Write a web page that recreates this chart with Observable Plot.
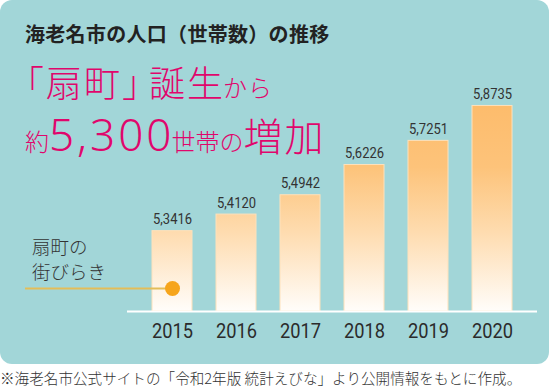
<!DOCTYPE html>
<html><head><meta charset="utf-8">
<script src="https://cdn.jsdelivr.net/npm/d3@7"></script>
<script src="https://cdn.jsdelivr.net/npm/@observablehq/plot@0.6"></script>
<style>
html,body{margin:0;padding:0;background:#fff;}
#card{position:relative;width:553px;height:392px;overflow:hidden;font-family:"Noto Sans CJK JP","Noto Sans",sans-serif;}
#panel{position:absolute;left:0;top:0;width:549px;height:364px;background:#a2d6d8;border-radius:12px;}
#title{position:absolute;left:25px;top:24px;font-size:20px;font-weight:700;color:#222;line-height:1;white-space:nowrap;letter-spacing:0.3px;}
.hl{position:absolute;color:#e0066c;white-space:nowrap;line-height:1;display:flex;align-items:baseline;font-weight:300;}
#hl1{top:63px;left:8px;}
#hl2{top:112px;left:25px;}
#note{position:absolute;left:32px;top:234px;font-size:18.5px;line-height:25px;color:#333;font-weight:300;}
#foot{position:absolute;left:0;top:370px;font-size:14.6px;color:#333;white-space:nowrap;line-height:1.1;font-weight:300;}
#chart{position:absolute;left:0;top:0;}
</style>
</head><body>
<div id="card">
  <div id="panel"></div>
  <div id="title">海老名市の人口（世帯数）の推移</div>
  <div class="hl" id="hl1"><span style="font-size:36px;letter-spacing:2px">「扇町<span style="letter-spacing:-9px">」</span>誕<span style="letter-spacing:0">生</span></span><span style="font-size:24px;letter-spacing:1px">から</span></div>
  <div class="hl" id="hl2"><span style="font-size:24px">約</span><span style="font-size:44px;font-family:'Noto Sans',sans-serif;letter-spacing:3px;font-weight:300">5,30<span style="letter-spacing:0">0</span></span><span style="font-size:24px;margin-left:0">世帯の</span><span style="font-size:39px;letter-spacing:2px">増加</span></div>
  <div id="note">扇町の<br>街びらき</div>
  <div id="chart"></div>
  <div id="foot">※海老名市公式サイトの「令和2年版 統計えびな」より公開情報をもとに作成。</div>
</div>
<script>
const years = ["2015", "2016", "2017", "2018", "2019", "2020"];
const households = [53416, 54120, 54942, 56226, 57251, 58735];
const valueLabels = ["5,3416", "5,4120", "5,4942", "5,6226", "5,7251", "5,8735"];
const baseValue = 50000;
const markerYear = "2015";
const markerValue = 50980;

const data = years.map((y, i) => ({year: y, value: households[i], label: valueLabels[i]}));

const W = 553, H = 350, mL = 128, mR = 17;
const xOpts = {domain: years, padding: 0.375};
// Same band scale the plot will use, to find where the marker line should end.
const xs = Plot.scale({x: {type: "band", ...xOpts, range: [mL, W - mR]}});
const markerCenter = xs.apply(markerYear) + xs.bandwidth / 2;

const plot = Plot.plot({
  width: W,
  height: H,
  marginLeft: mL,
  marginRight: mR,
  marginTop: 75.7,
  marginBottom: 39,
  x: {...xOpts, axis: null},
  y: {domain: [50000, 60000], axis: null},
  style: {background: "transparent", overflow: "visible"},
  marks: [
    Plot.barY(data, {x: "year", y1: d => baseValue, y2: "value", fill: "url(#barGrad)", stroke: "#fde1bb", strokeWidth: 1}),
    Plot.ruleY([baseValue], {stroke: "#ffffff", strokeWidth: 2, insetLeft: -1, insetRight: -1}),
    Plot.text(data, {x: "year", y: "value", text: "label", dy: -7, lineAnchor: "bottom", fontSize: 15, fill: "#333", fontFamily: "Roboto"}),
    Plot.text(data, {x: "year", y: d => baseValue, text: "year", dy: 20, lineAnchor: "middle", fontSize: 20, fill: "#2b2b2b", fontFamily: "Roboto"}),
    Plot.ruleY([markerValue], {stroke: "#e4bd58", strokeWidth: 2, insetLeft: -103, insetRight: (W - mR) - markerCenter}),
    Plot.dot([markerValue], {x: () => markerYear, y: d => d, r: 7.5, fill: "#f6a51c", stroke: "none"})
  ]
});

const yScale = plot.scale("y");
const gradTop = yScale.apply(d3.max(households));
const gradBottom = yScale.apply(baseValue);
const svg = d3.select(plot);
const grad = svg.insert("defs", ":first-child").append("linearGradient")
  .attr("id", "barGrad").attr("gradientUnits", "userSpaceOnUse")
  .attr("x1", 0).attr("x2", 0).attr("y1", gradTop).attr("y2", gradBottom);
[[0, "#fdbc6c"], [0.3, "#fdc37a"], [0.62, "#fedcb0"], [1, "#fffdfa"]].forEach(([o, c]) =>
  grad.append("stop").attr("offset", o).attr("stop-color", c));

const textGroups = svg.selectAll('g[aria-label="text"]').nodes();
if (textGroups[0]) d3.select(textGroups[0]).selectAll("text").attr("textLength", 39).attr("lengthAdjust", "spacingAndGlyphs");
if (textGroups[1]) d3.select(textGroups[1]).selectAll("text").attr("textLength", 41).attr("lengthAdjust", "spacingAndGlyphs");

document.getElementById("chart").appendChild(plot);
</script>
</body></html>
